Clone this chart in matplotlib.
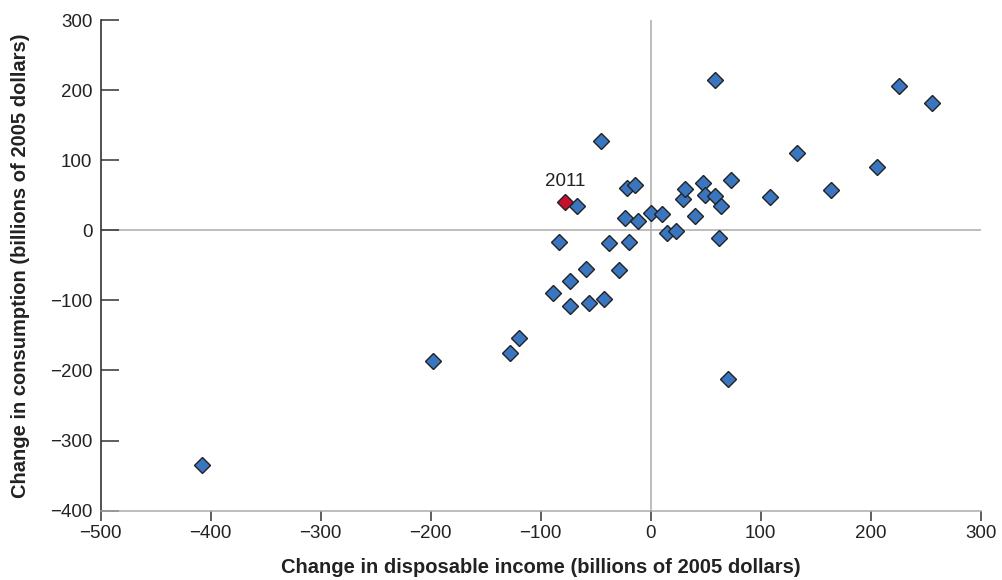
import matplotlib
matplotlib.use("Agg")
from matplotlib import pyplot as plt

# dados: variação da renda disponível (x) e do consumo (y), bilhões de dólares de 2005
renda = [-408, -198, -128, -120, -89, -83, -73, -73, -67, -59, -56, -45, -42.5, -38,
         -29, -23, -22, -20, -14, -12, 0, 10, 15, 23, 29, 31, 40, 47.5, 49.5, 58.5,
         58, 62, 64, 70, 73, 108, 133, 164, 206, 226, 256]
consumo = [-335, -187, -175, -153, -89, -16, -73, -108, 35, -55, -103, 127, -98, -18,
           -56, 18, 61, -17, 64, 13, 24, 23, -4, -1, 45, 59, 21, 67, 51, 215,
           49, -10.5, 35, -212, 72, 48, 110, 57, 90, 206, 181]

destaque_x = [-78]
destaque_y = [40]
destaque_rotulo = "2011"

xticks = [-500, -400, -300, -200, -100, 0, 100, 200, 300]
yticks = [-400, -300, -200, -100, 0, 100, 200, 300]

plt.rcParams['font.family'] = ['Liberation Sans', 'DejaVu Sans']

fig = plt.figure(figsize=(10.02, 5.8), dpi=100)
ax = fig.add_axes([0.1005, 0.1195, 0.8783, 0.846])

ax.axhline(0, color='#ababab', lw=1.1, zorder=1)
ax.axvline(0, color='#ababab', lw=1.1, zorder=1)

ax.plot(renda, consumo, 'D', ms=8, mfc='#3a76bf', mec='#222222', mew=1.0,
        zorder=3, clip_on=False)
ax.plot(destaque_x, destaque_y, 'D', ms=8, mfc='#c8102e', mec='#222222', mew=1.0,
        zorder=4)
ax.annotate(destaque_rotulo, (destaque_x[0], destaque_y[0]), xytext=(0, 11.5),
            textcoords='offset points', ha='center', va='baseline', fontsize=13.5,
            color='#222222')

ax.set_xlim(-500, 300)
ax.set_ylim(-400, 300)
ax.set_xticks(xticks)
ax.set_yticks(yticks)

ax.spines['top'].set_visible(False)
ax.spines['right'].set_visible(False)
ax.spines['left'].set_color('#333333')
ax.spines['left'].set_linewidth(1.2)
ax.spines['bottom'].set_color('#ababab')
ax.spines['bottom'].set_linewidth(1.1)

ax.tick_params(axis='y', direction='in', length=13, width=1.1, color='#333333',
               pad=6, labelsize=13.5, labelcolor='#222222')
ax.tick_params(axis='x', direction='out', length=7, width=1.1, color='#333333',
               pad=3, labelsize=13.5, labelcolor='#222222')

ax.set_xlabel('Change in disposable income (billions of 2005 dollars)',
              fontsize=14.5, fontweight='bold', color='#222222', labelpad=12)
ax.set_ylabel('Change in consumption (billions of 2005 dollars)',
              fontsize=14.5, fontweight='bold', color='#222222', labelpad=14)

fig.savefig('out.png', dpi=100)
